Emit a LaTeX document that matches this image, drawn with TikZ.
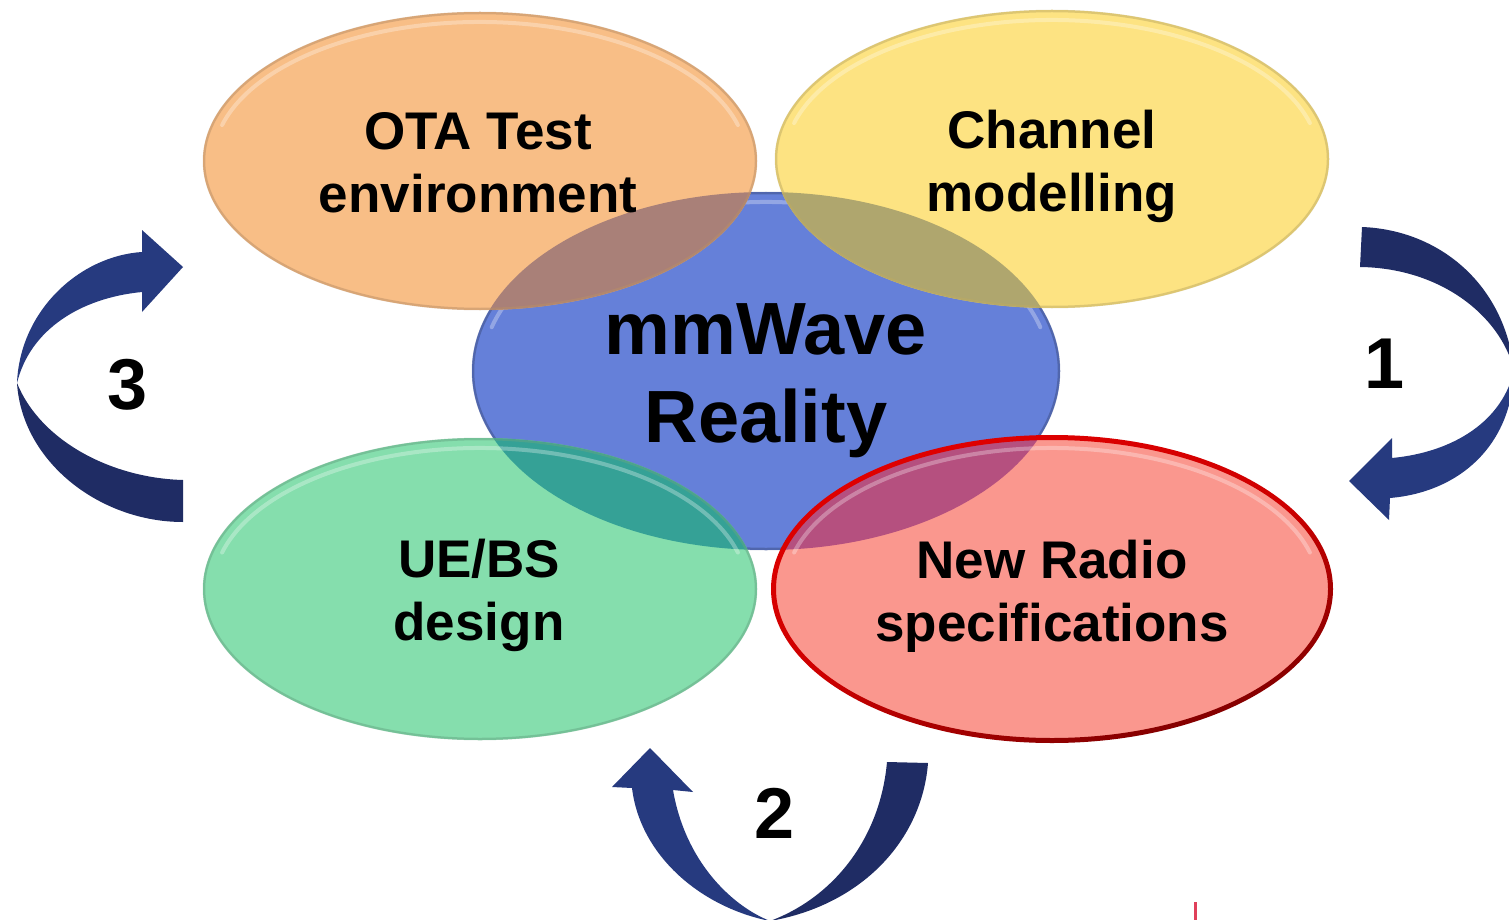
\documentclass[tikz,border=0pt]{standalone}
\usepackage{fontspec}
\setmainfont{Liberation Sans}
\definecolor{cOTA}{HTML}{F8BE86}
\definecolor{cCH}{HTML}{FDE382}
\definecolor{cMM}{HTML}{6580D9}
\definecolor{cUE}{HTML}{85DEAD}
\definecolor{cNR}{HTML}{FA978E}
\definecolor{oOTA}{HTML}{A98078}
\definecolor{oCH}{HTML}{AFA66E}
\definecolor{oUE}{HTML}{35A196}
\definecolor{oNR}{HTML}{B5507F}
\definecolor{arrDark}{HTML}{1F2C64}
\definecolor{arrLight}{HTML}{263A7F}
\definecolor{nrRed}{HTML}{E20000}
\definecolor{nrDark}{HTML}{7A0000}
\definecolor{tick}{HTML}{E0405A}
\tikzset{
  lbl/.style={font=\fontsize{53}{63}\selectfont\bfseries, align=center, inner sep=0pt, text=black},
  big/.style={font=\fontsize{74}{88}\selectfont\bfseries, align=center, inner sep=0pt, text=black},
  num/.style={font=\fontsize{72}{86}\selectfont\bfseries, inner sep=0pt, text=black},
  rim/.style={line width=2.5pt, draw opacity=0.5},
  shine/.style={draw=white, line width=4pt, draw opacity=0.3, line cap=round},
  upper/.style={fill=arrLight},
  lower/.style={fill=arrDark}
}
\begin{document}
\begin{tikzpicture}[x=1pt,y=-1pt]
\useasboundingbox (0,0) rectangle (1509,920);
\clip (0,0) rectangle (1509,920);
\fill[white] (0,0) rectangle (1509,920);
% centres
\coordinate (mm) at (766,371);
\coordinate (ota) at (480,161);
\coordinate (ch) at (1052,159);
\coordinate (ue) at (480,589);
\coordinate (nr) at (1052,589);
% central ellipse
\fill[cMM] (mm) ellipse [x radius=294, y radius=179];
\draw[rim, draw=cMM!60!black] (mm) ellipse [x radius=293, y radius=178];
\draw[shine] (mm) ++(195:284 and 169) arc [start angle=195, end angle=345, x radius=284, y radius=169];
% outer ellipses
\fill[cOTA] (ota) ellipse [x radius=277, y radius=149];
\fill[cCH] (ch) ellipse [x radius=277, y radius=149];
\fill[cUE] (ue) ellipse [x radius=277, y radius=151];
\fill[cNR] (nr) ellipse [x radius=280, y radius=153];
% overlaps
\begin{scope}
  \clip (mm) ellipse [x radius=294, y radius=179];
  \fill[oOTA] (ota) ellipse [x radius=277, y radius=149];
  \fill[oCH] (ch) ellipse [x radius=277, y radius=149];
  \fill[oUE] (ue) ellipse [x radius=277, y radius=151];
  \fill[oNR] (nr) ellipse [x radius=280, y radius=153];
\end{scope}
% rims and highlights
\draw[rim, draw=cOTA!75!black] (ota) ellipse [x radius=276, y radius=148];
\draw[rim, draw=cCH!75!black] (ch) ellipse [x radius=276, y radius=148];
\draw[rim, draw=cUE!75!black] (ue) ellipse [x radius=276, y radius=150];
\draw[shine] (ota) ++(195:267 and 139) arc [start angle=195, end angle=345, x radius=267, y radius=139];
\draw[shine] (ch) ++(195:267 and 139) arc [start angle=195, end angle=345, x radius=267, y radius=139];
\draw[shine] (ue) ++(195:267 and 141) arc [start angle=195, end angle=345, x radius=267, y radius=141];
\draw[shine] (nr) ++(195:267 and 141) arc [start angle=195, end angle=345, x radius=267, y radius=141];
% red border of New Radio
\begin{scope}[even odd rule]
  \clip (nr) ellipse [x radius=281, y radius=154] (nr) ellipse [x radius=276, y radius=149];
  \shade[top color=nrRed, bottom color=nrDark, middle color=nrRed!80!nrDark, shading angle=20] (760,425) rectangle (1345,755);
\end{scope}
% labels
\node[lbl] (tota) at (478,162.5) {OTA Test\\environment};
\node[lbl] (tch) at (1052,166.5) {Channel\\modelling};
\node[lbl] (tue) at (479,595.5) {UE/BS\\design};
\node[lbl] (tnr) at (1052,596.5) {New Radio\\specifications};
\node[big] (tmm) at (766,380.5) {mmWave\\Reality};
% arrow 1 (right)
\fill[lower] (1362,227) .. controls (1440,230) and (1505,285) .. (1514,370)
  .. controls (1500,315) and (1440,268) .. (1360,267) -- cycle;
\fill[upper] (1514,370) .. controls (1512,445) and (1460,492) .. (1390,498)
  -- (1389,520) -- (1349,481) -- (1392,438) -- (1392,458)
  .. controls (1455,452) and (1503,420) .. (1514,370) -- cycle;
\node[num] (n1) at (1385,364) {1};
% arrow 3 (left)
\fill[upper] (17,383) .. controls (20,310) and (80,256) .. (142,252)
  -- (142,230) -- (183,267) -- (142,312) -- (142,292)
  .. controls (80,298) and (30,330) .. (17,383) -- cycle;
\fill[lower] (17,383) .. controls (22,462) and (100,522) .. (183,522)
  -- (183,480) .. controls (110,478) and (40,440) .. (17,383) -- cycle;
\node[num] (n3) at (128,385) {3};
% arrow 2 (bottom)
\fill[upper] (770,921) .. controls (700,907) and (640,855) .. (632,788)
  -- (612,787) -- (650,748) -- (693,792) -- (673,790)
  .. controls (685,860) and (730,905) .. (770,921) -- cycle;
\fill[lower] (770,921) .. controls (862,905) and (922,840) .. (928,763)
  -- (887,762) .. controls (880,840) and (832,898) .. (770,921) -- cycle;
\node[num] (n2) at (775,813) {2};
% small red tick
\fill[tick] (1193.5,902) rectangle (1196.5,920);
\end{tikzpicture}
\end{document}
